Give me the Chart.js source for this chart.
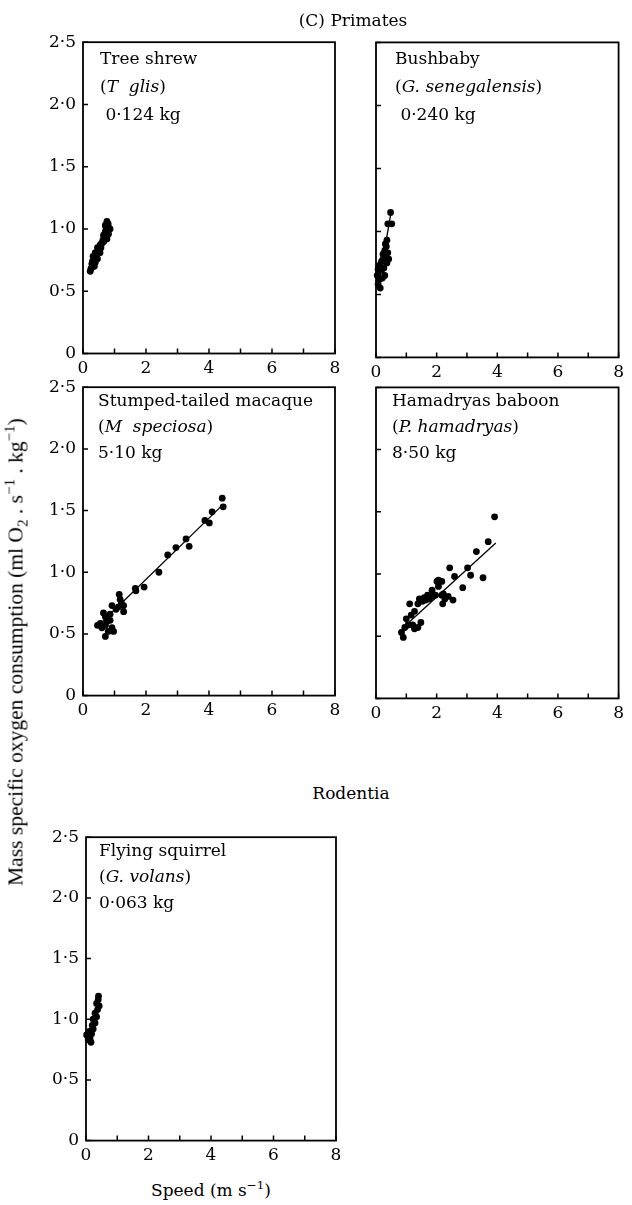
<!DOCTYPE html>
<html>
<head>
<meta charset="utf-8">
<script src="https://cdn.jsdelivr.net/npm/chart.js@4.4.1/dist/chart.umd.min.js"></script>
<style>
  html, body { margin: 0; padding: 0; background: #fff; }
  body { position: relative; width: 632px; height: 1205px; overflow: hidden; font-family: "DejaVu Serif", serif; color: #000; }
  .wrap { position: absolute; }
  .txt { position: absolute; white-space: nowrap; font-size: 17px; transform: translate(-50%, -50%); }
  .note { position: absolute; white-space: nowrap; font-size: 17px; }
  .ytitle { font-family: "Liberation Serif", serif; font-size: 21.5px; transform: translate(-50%, -50%) rotate(-90deg); }
  sup, sub { font-size: 0.7em; line-height: 0; }
</style>
</head>
<body>
<div class="txt" style="left:353px;top:20px">(C) Primates</div>
<div class="txt" style="left:351px;top:793px">Rodentia</div>
<div class="txt" style="left:211px;top:1190px">Speed (m s<sup>−1</sup>)</div>
<div class="txt ytitle" style="left:16px;top:652px">Mass specific oxygen consumption (ml O<sub>2</sub> . s<sup>−1</sup> . kg<sup>−1</sup>)</div>

<div class="note" style="left:100px;top:44px;line-height:28px">Tree shrew<br>(<i>T&nbsp; glis</i>)<br>&nbsp;0·124 kg</div>
<div class="note" style="left:395px;top:44px;line-height:28px">Bushbaby<br>(<i>G. senegalensis</i>)<br>&nbsp;0·240 kg</div>
<div class="note" style="left:98px;top:387px;line-height:26px">Stumped-tailed macaque<br>(<i>M&nbsp; speciosa</i>)<br>5·10 kg</div>
<div class="note" style="left:392px;top:387px;line-height:26px">Hamadryas baboon<br>(<i>P. hamadryas</i>)<br>8·50 kg</div>
<div class="note" style="left:99px;top:837px;line-height:26px">Flying squirrel<br>(<i>G. volans</i>)<br>0·063 kg</div>

<script>
// tick labels
const xTickLabels = ['0', '', '2', '', '4', '', '6', '', '8'];
const yTickLabels = ['0', '0·5', '1·0', '1·5', '2·0', '2·5'];

// Tree shrew (T. glis)
const treeShrewSpeed = [0.23, 0.25, 0.28, 0.30, 0.34, 0.34, 0.39, 0.42, 0.46, 0.39, 0.50, 0.54, 0.54, 0.60, 0.63, 0.68, 0.76, 0.81, 0.86, 0.71, 0.76, 0.71, 0.46, 0.57, 0.32, 0.65, 0.28, 0.81, 0.72, 0.80, 0.36, 0.44, 0.58, 0.66];
const treeShrewVO2   = [0.66, 0.68, 0.69, 0.74, 0.71, 0.75, 0.73, 0.79, 0.76, 0.81, 0.84, 0.81, 0.87, 0.885, 0.91, 0.93, 0.92, 0.96, 1.00, 1.03, 1.06, 0.98, 0.85, 0.85, 0.78, 0.95, 0.72, 1.01, 1.02, 1.04, 0.70, 0.80, 0.88, 0.90];
const treeShrewFitX  = [0.22, 0.84];
const treeShrewFitY  = [0.66, 1.04];

// Bushbaby (G. senegalensis)
const bushbabySpeed = [0.48, 0.39, 0.52, 0.36, 0.34, 0.39, 0.32, 0.42, 0.36, 0.23, 0.21, 0.26, 0.18, 0.29, 0.07, 0.04, 0.12, 0.07, 0.14, 0.21, 0.11, 0.29, 0.18, 0.31, 0.25];
const bushbabyVO2   = [1.15, 1.06, 1.06, 0.93, 0.88, 0.83, 0.80, 0.78, 0.75, 0.82, 0.77, 0.71, 0.69, 0.65, 0.70, 0.65, 0.62, 0.58, 0.55, 0.63, 0.73, 0.85, 0.76, 0.90, 0.79];
const bushbabyFitX  = [0.10, 0.48];
const bushbabyFitY  = [0.60, 1.13];

// Stumped-tailed macaque (M. speciosa)
const macaqueSpeed = [4.42, 4.45, 4.10, 3.87, 4.01, 3.27, 3.37, 2.95, 2.69, 2.41, 1.94, 1.66, 1.68, 1.15, 1.18, 1.29, 1.13, 1.29, 0.92, 0.86, 0.65, 0.71, 0.76, 0.55, 0.46, 0.60, 0.71, 0.92, 0.97, 0.80, 0.71, 0.86, 1.05, 1.22];
const macaqueVO2   = [1.60, 1.53, 1.49, 1.42, 1.40, 1.27, 1.21, 1.20, 1.14, 1.00, 0.88, 0.87, 0.85, 0.82, 0.78, 0.73, 0.72, 0.68, 0.73, 0.66, 0.67, 0.64, 0.60, 0.585, 0.57, 0.55, 0.48, 0.55, 0.52, 0.52, 0.57, 0.61, 0.70, 0.75];
const macaqueFitX  = [0.50, 4.45];
const macaqueFitY  = [0.57, 1.55];

// Hamadryas baboon (P. hamadryas)
const baboonSpeed = [3.91, 3.70, 3.31, 3.53, 3.12, 3.02, 2.86, 2.59, 2.43, 2.54, 2.38, 2.20, 2.22, 2.17, 2.01, 2.06, 1.96, 1.85, 1.75, 1.64, 1.53, 1.38, 1.11, 1.27, 1.16, 1.00, 1.48, 1.38, 1.21, 1.06, 0.95, 0.84, 0.90, 1.27, 1.85, 2.17, 1.70, 1.59, 1.43, 2.06, 2.27];
const baboonVO2   = [1.46, 1.26, 1.18, 0.97, 0.99, 1.05, 0.89, 0.98, 1.05, 0.79, 0.82, 0.76, 0.84, 0.94, 0.94, 0.90, 0.83, 0.82, 0.80, 0.79, 0.78, 0.76, 0.76, 0.70, 0.67, 0.64, 0.61, 0.57, 0.59, 0.59, 0.57, 0.53, 0.49, 0.56, 0.87, 0.83, 0.83, 0.81, 0.80, 0.95, 0.80];
const baboonFitX  = [0.90, 3.95];
const baboonFitY  = [0.57, 1.25];

// Flying squirrel (G. volans)
const squirrelSpeed = [0.07, 0.02, 0.13, 0.18, 0.11, 0.23, 0.20, 0.29, 0.23, 0.34, 0.29, 0.37, 0.42, 0.34, 0.39, 0.40, 0.16];
const squirrelVO2   = [0.83, 0.87, 0.84, 0.88, 0.90, 0.92, 0.95, 0.97, 1.00, 1.02, 1.05, 1.08, 1.11, 1.13, 1.16, 1.19, 0.81];
const squirrelFitX  = [0.02, 0.42];
const squirrelFitY  = [0.84, 1.16];

// where each plot area sits on the page
const panels = [
  { box: { l: 83,  t: 42,  r: 335, b: 357 },  yLabels: true,  speed: treeShrewSpeed, vo2: treeShrewVO2, fitX: treeShrewFitX, fitY: treeShrewFitY },
  { box: { l: 376, t: 42,  r: 628, b: 357 },  yLabels: false, speed: bushbabySpeed,  vo2: bushbabyVO2,  fitX: bushbabyFitX,  fitY: bushbabyFitY },
  { box: { l: 83,  t: 387, r: 335, b: 699 },  yLabels: true,  speed: macaqueSpeed,   vo2: macaqueVO2,   fitX: macaqueFitX,   fitY: macaqueFitY },
  { box: { l: 376, t: 387, r: 628, b: 698 },  yLabels: false, speed: baboonSpeed,    vo2: baboonVO2,    fitX: baboonFitX,    fitY: baboonFitY },
  { box: { l: 86,  t: 837, r: 336, b: 1144 }, yLabels: true,  speed: squirrelSpeed,  vo2: squirrelVO2,  fitX: squirrelFitX,  fitY: squirrelFitY },
];

const INK = '#000';
const tickFont = { family: 'DejaVu Serif', size: 17 };

// box round the plot + short inward ticks
const framePlugin = {
  id: 'frame',
  afterDatasetsDraw(chart) {
    const { ctx, chartArea: a, scales: { x, y } } = chart;
    ctx.save();
    ctx.strokeStyle = INK;
    ctx.lineWidth = 1.8;
    ctx.strokeRect(a.left, a.top, a.right - a.left, a.bottom - a.top);
    ctx.lineWidth = 1.5;
    ctx.beginPath();
    x.ticks.forEach(t => {
      const px = x.getPixelForValue(t.value);
      ctx.moveTo(px, a.bottom); ctx.lineTo(px, a.bottom - 5);
    });
    y.ticks.forEach(t => {
      const py = y.getPixelForValue(t.value);
      ctx.moveTo(a.left, py); ctx.lineTo(a.left + 5, py);
    });
    ctx.stroke();
    ctx.restore();
  }
};

function makePanel(p) {
  const wrap = document.createElement('div');
  wrap.className = 'wrap';
  const canvas = document.createElement('canvas');
  canvas.width = p.box.r - p.box.l + 90;
  canvas.height = p.box.b - p.box.t + 60;
  wrap.appendChild(canvas);
  document.body.insertBefore(wrap, document.body.firstChild);

  const chart = new Chart(canvas, {
    type: 'scatter',
    data: {
      datasets: [
        {
          data: p.speed.map((s, i) => ({ x: s, y: p.vo2[i] })),
          pointRadius: 3.4, pointHoverRadius: 3.4,
          pointBackgroundColor: INK, pointBorderWidth: 0,
          clip: false
        },
        {
          data: p.fitX.map((s, i) => ({ x: s, y: p.fitY[i] })),
          showLine: true, pointRadius: 0,
          borderColor: INK, borderWidth: 1.3,
          clip: false
        }
      ]
    },
    options: {
      responsive: false, animation: false, devicePixelRatio: 1,
      layout: { padding: { top: 0, right: 8, left: 0, bottom: 0 } },
      plugins: { legend: { display: false }, tooltip: { enabled: false } },
      events: [],
      scales: {
        x: {
          type: 'linear', min: 0, max: 8,
          afterFit: s => { s.height = 36; },
          grid: { display: false, drawTicks: false },
          border: { display: false },
          ticks: {
            stepSize: 1, autoSkip: false, maxRotation: 0, padding: 5,
            color: INK, font: tickFont,
            callback: (v, i) => xTickLabels[i]
          }
        },
        y: {
          type: 'linear', min: 0, max: 2.5,
          afterFit: s => { s.width = 70; },
          grid: { display: false, drawTicks: false },
          border: { display: false },
          ticks: {
            display: p.yLabels, stepSize: 0.5, padding: 7,
            color: INK, font: tickFont,
            callback: (v, i) => yTickLabels[i]
          }
        }
      }
    },
    plugins: [framePlugin]
  });

  // size the canvas so the plot area lands on the reference box
  const a = chart.chartArea;
  chart.resize(
    chart.width + (p.box.r - p.box.l) - (a.right - a.left),
    chart.height + (p.box.b - p.box.t) - (a.bottom - a.top)
  );
  const a2 = chart.chartArea;
  wrap.style.left = (p.box.l - a2.left) + 'px';
  wrap.style.top = (p.box.t - a2.top) + 'px';
}

panels.forEach(makePanel);
</script>
</body>
</html>
